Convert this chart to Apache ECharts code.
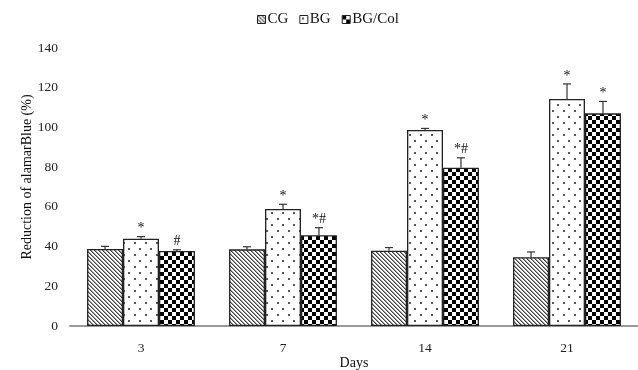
<!DOCTYPE html>
<html><head><meta charset="utf-8">
<script src="https://cdn.jsdelivr.net/npm/echarts@6/dist/echarts.min.js"></script>
<style>html,body{margin:0;padding:0;background:#fff}#c{width:638px;height:370px}</style>
</head><body><div id="c"></div>
<script>
var categories = ['3', '7', '14', '21'];
var seriesNames = ['CG', 'BG', 'BG/Col'];
var cgValues = [38.8, 38.6, 37.9, 34.6];
var cgErrors = [1.3, 1.3, 1.6, 2.7];
var bgValues = [44.0, 58.9, 98.7, 114.3];
var bgErrors = [1.0, 2.4, 0.8, 7.6];
var bgColValues = [37.8, 45.7, 79.7, 107.1];
var bgColErrors = [0.6, 3.8, 5.0, 6.0];
var cgMarks = ['', '', '', ''];
var bgMarks = ['*', '*', '*', '*'];
var bgColMarks = ['#', '*#', '*#', '*'];
var yTicks = [0, 20, 40, 60, 80, 100, 120, 140];

function makeCanvas(w, h, draw) {
  var c = document.createElement('canvas');
  c.width = w; c.height = h;
  var ctx = c.getContext('2d');
  ctx.fillStyle = '#fff'; ctx.fillRect(0, 0, w, h);
  draw(ctx);
  return c;
}
var stripes = makeCanvas(4, 4, function (ctx) {
  for (var y = 0; y < 4; y++) {
    ctx.fillStyle = '#444';
    ctx.fillRect(y % 4, y, 1, 1);
    ctx.fillStyle = '#999';
    ctx.fillRect((y + 1) % 4, y, 1, 1);
  }
});
var dots = makeCanvas(11, 12, function (ctx) {
  ctx.fillStyle = '#555';
  ctx.fillRect(2, 2, 2, 2);
  ctx.fillRect(7, 8, 2, 2);
});
var checker = makeCanvas(8, 8, function (ctx) {
  ctx.fillStyle = '#000';
  ctx.fillRect(0, 0, 4, 4);
  ctx.fillRect(4, 4, 4, 4);
});
var patterns = [stripes, dots, checker];
var valuesList = [cgValues, bgValues, bgColValues];
var errorsList = [cgErrors, bgErrors, bgColErrors];
var marksList = [cgMarks, bgMarks, bgColMarks];

var SERIF = '"Liberation Serif", "Times New Roman", serif';
var GAP = 0.24;
var series = [];
seriesNames.forEach(function (name, k) {
  series.push({
    name: name, type: 'bar', barGap: '0%', barCategoryGap: (GAP * 100) + '%',
    data: valuesList[k],
    itemStyle: { color: { image: patterns[k], repeat: 'repeat' }, borderColor: '#222', borderWidth: 1.3 },
    emphasis: { disabled: true }
  });
});
var errData = [];
seriesNames.forEach(function (name, k) {
  valuesList[k].forEach(function (v, i) {
    errData.push([i, v, errorsList[k][i], k, marksList[k][i]]);
  });
});
series.push({
  type: 'custom', silent: true, z: 10,
  data: errData,
  encode: { x: 0, y: 1 },
  renderItem: function (params, api) {
    var i = api.value(0), v = api.value(1), e = api.value(2), k = api.value(3);
    var mark = errData[params.dataIndex][4];
    var band = api.size([1, 0])[0];
    var bw = band * (1 - GAP) / 3;
    var base = api.coord([i, v]);
    var top = api.coord([i, v + e]);
    var x = base[0] + (k - 1) * bw;
    var cap = 4;
    var children = [
      { type: 'line', shape: { x1: x, y1: base[1], x2: x, y2: top[1] }, style: { stroke: '#333', lineWidth: 1.2 } },
      { type: 'line', shape: { x1: x - cap, y1: top[1], x2: x + cap, y2: top[1] }, style: { stroke: '#333', lineWidth: 1.2 } }
    ];
    if (mark) {
      children.push({ type: 'text', style: { text: mark, x: x, y: top[1] - 1, align: 'center', verticalAlign: 'bottom',
        font: '14px ' + SERIF, fill: '#111' } });
    }
    return { type: 'group', children: children };
  }
});

var chart = echarts.init(document.getElementById('c'));
chart.setOption({
  animation: false,
  backgroundColor: '#fff',
  textStyle: { fontFamily: SERIF },
  legend: {
    data: seriesNames, top: 7, left: 252, icon: 'rect', itemWidth: 8, itemHeight: 8, itemGap: 11,
    textStyle: { fontSize: 15, color: '#111', fontFamily: SERIF, padding: [0, 0, 0, -3] },
    itemStyle: { borderColor: '#222', borderWidth: 1 }
  },
  grid: { left: 70, right: 0, top: 48, bottom: 44, containLabel: false, outerBoundsMode: 'none' },
  xAxis: {
    type: 'category', data: categories,
    name: 'Days', nameLocation: 'middle', nameGap: 30, nameMoveOverlap: false,
    nameTextStyle: { fontSize: 14, color: '#111', fontFamily: SERIF },
    axisLine: { lineStyle: { color: '#999', width: 2 } },
    axisTick: { show: false },
    axisLabel: { fontSize: 13.5, color: '#222', margin: 15, fontFamily: SERIF }
  },
  yAxis: {
    type: 'value', min: yTicks[0], max: yTicks[yTicks.length - 1], interval: 20,
    name: 'Reduction of alamarBlue (%)', nameLocation: 'middle', nameGap: 36, nameMoveOverlap: false,
    nameTextStyle: { fontSize: 14, color: '#111', fontFamily: SERIF, padding: [0, 0, 0, 20] },
    axisLine: { show: false }, axisTick: { show: false }, splitLine: { show: false },
    axisLabel: { fontSize: 13.5, color: '#222', margin: 12, fontFamily: SERIF }
  },
  series: series
});
</script></body></html>
